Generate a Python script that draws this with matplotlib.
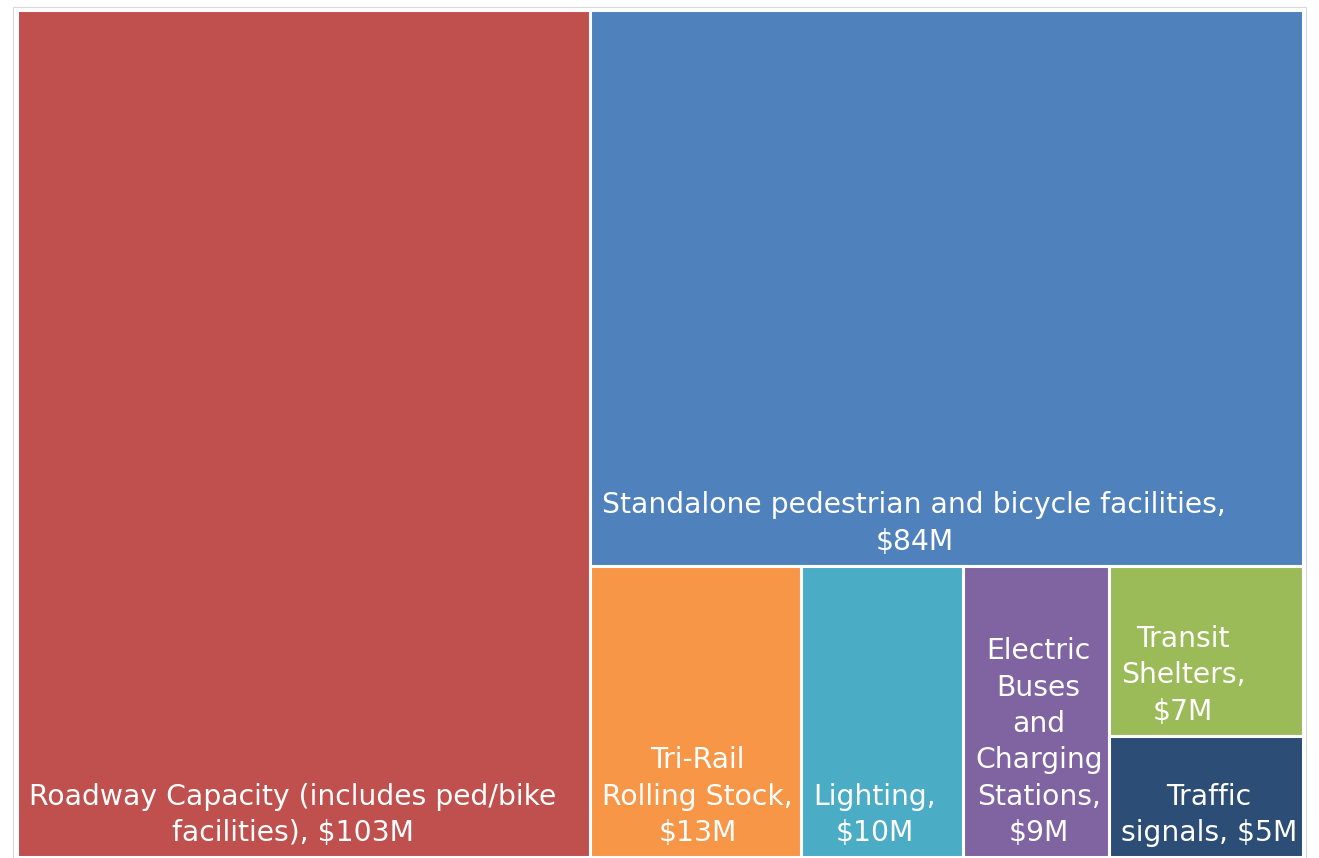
import matplotlib.pyplot as plt
from matplotlib.patches import Rectangle

# data
labels = ["Roadway Capacity (includes ped/bike\nfacilities), $103M",
          "Standalone pedestrian and bicycle facilities,\n$84M",
          "Tri-Rail\nRolling Stock,\n$13M",
          "Lighting,\n$10M",
          "Electric\nBuses\nand\nCharging\nStations,\n$9M",
          "Transit\nShelters,\n$7M",
          "Traffic\nsignals, $5M"]
values = [103, 84, 13, 10, 9, 7, 5]
colors = ["#C0504D", "#4F81BD", "#F79646", "#4BACC6", "#8064A2", "#9BBB59", "#2C4D75"]

W, H = 1286.0, 847.0


def worst(row, side, total, area):
    s = sum(row) * area / total
    out = 0
    for r in row:
        a = r * area / total
        out = max(out, max(side * side * a / (s * s), s * s / (side * side * a)))
    return out


def layout_row(row, x, y, w, h, total_left, area_left, rects):
    # place row along shorter side
    frac = sum(row) / total_left
    if w >= h:
        rw = w * frac
        yy = y
        for r in row:
            rh = h * r / sum(row)
            rects.append((x, yy, rw, rh))
            yy += rh
        return x + rw, y, w - rw, h
    else:
        rh = h * frac
        xx = x
        for r in row:
            rw = w * r / sum(row)
            rects.append((xx, y, rw, rh))
            xx += rw
        return x, y + rh, w, h - rh


def squarify(vals, x, y, w, h):
    rects = []
    vals = list(vals)
    while vals:
        total = sum(vals)
        area = w * h
        side = min(w, h)
        row = [vals[0]]
        i = 1
        while i < len(vals):
            if worst(row + [vals[i]], side, total, area) <= worst(row, side, total, area):
                row.append(vals[i])
                i += 1
            else:
                break
        x, y, w, h = layout_row(row, x, y, w, h, total, area, rects)
        vals = vals[i:]
    return rects


fig = plt.figure(figsize=(13.19, 8.58), dpi=100)
ax = fig.add_axes([0, 0, 1, 1])
ax.set_xlim(0, 1319)
ax.set_ylim(858, 0)
ax.axis('off')

ax.add_patch(Rectangle((13, 7), 1293, 851, facecolor='none', edgecolor='#D9D9D9', lw=0.8))

rects = squarify(values, 17, 10, W, H)
for (x, y, w, h), lab, c in zip(rects, labels, colors):
    ax.add_patch(Rectangle((x, y), w, h, facecolor=c, edgecolor='white', lw=2.2))
    ax.text(x + 12, y + h - 10, lab, ha='left', va='bottom', multialignment='center',
            color='white', fontsize=20.3, family='DejaVu Sans', linespacing=1.38)

fig.savefig('out.png', dpi=100)
